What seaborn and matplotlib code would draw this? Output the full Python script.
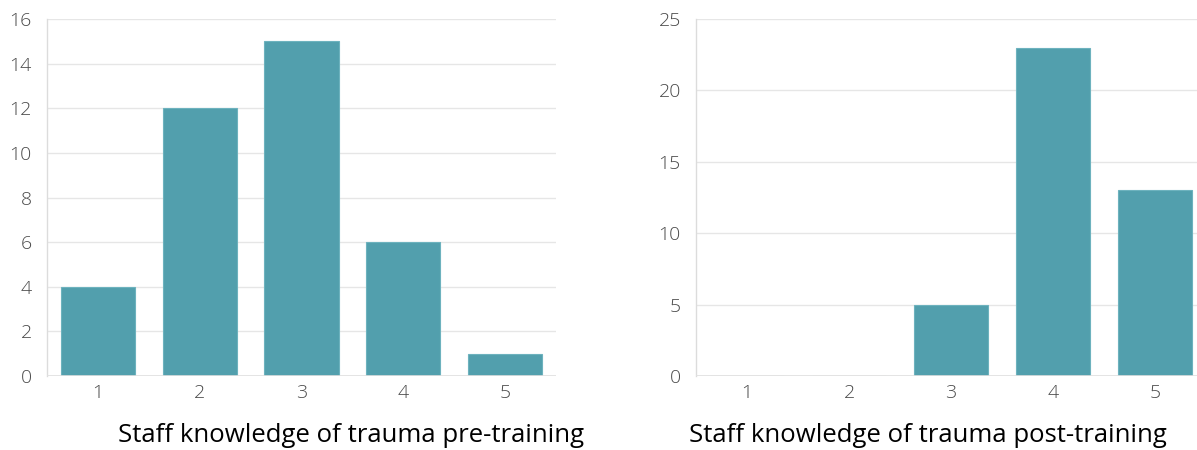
import numpy as np
import pandas as pd
import seaborn as sns
import matplotlib.pyplot as plt

# Data
categories = ["1", "2", "3", "4", "5"]
pre_counts = [4, 12, 15, 6, 1]
post_counts = [0, 0, 5, 23, 13]
pre_title = "Staff knowledge of trauma pre-training"
post_title = "Staff knowledge of trauma post-training"
pre_ticks = [0, 2, 4, 6, 8, 10, 12, 14, 16]
post_ticks = [0, 5, 10, 15, 20, 25]

sns.set_style("white")
plt.rcParams['font.family'] = ['Open Sans', 'DejaVu Sans']

bar_color = "#529fad"
grid_color = "#e6e6e6"
tick_color = "#4a4a4a"

fig = plt.figure(figsize=(11.97, 4.5), dpi=100)
ax1 = fig.add_axes([0.0393, 0.1644, 0.4252, 0.7933])
ax2 = fig.add_axes([0.5815, 0.1644, 0.4261, 0.7933])


def draw(ax, values, ticks):
    df = pd.DataFrame({"cat": categories, "val": values})
    sns.barplot(data=df, x="cat", y="val", order=categories, color=bar_color,
                width=0.73, saturation=1, edgecolor="#6db2be", linewidth=0.8,
                ax=ax, zorder=3)
    ax.set_xlim(-0.5, 4.5)
    ax.set_ylim(0, ticks[-1])
    ax.set_yticks(ticks)
    ax.yaxis.grid(True, color=grid_color, linewidth=1, zorder=0)
    ax.set_axisbelow(True)
    for s in ["top", "right", "bottom"]:
        ax.spines[s].set_visible(False)
    ax.spines["left"].set_color("#dcdcdc")
    ax.spines["left"].set_linewidth(1)
    ax.tick_params(axis="y", length=9, color=grid_color, width=1, pad=2,
                   labelsize=14, labelcolor=tick_color)
    ax.tick_params(axis="x", length=0, pad=6, labelsize=14, labelcolor=tick_color)
    for lab in ax.get_xticklabels() + ax.get_yticklabels():
        lab.set_fontweight("light")
    ax.set_xlabel("")
    ax.set_ylabel("")
    ax.axhline(0, color="#e0e0e0", linewidth=1.2, zorder=4)


draw(ax1, pre_counts, pre_ticks)
draw(ax2, post_counts, post_ticks)

fig.text(0.293, 0.033, pre_title, ha="center", va="center", fontsize=18.5, color="#000000")
fig.text(0.775, 0.033, post_title, ha="center", va="center", fontsize=18.5, color="#000000")

fig.savefig("out.png", dpi=100)
